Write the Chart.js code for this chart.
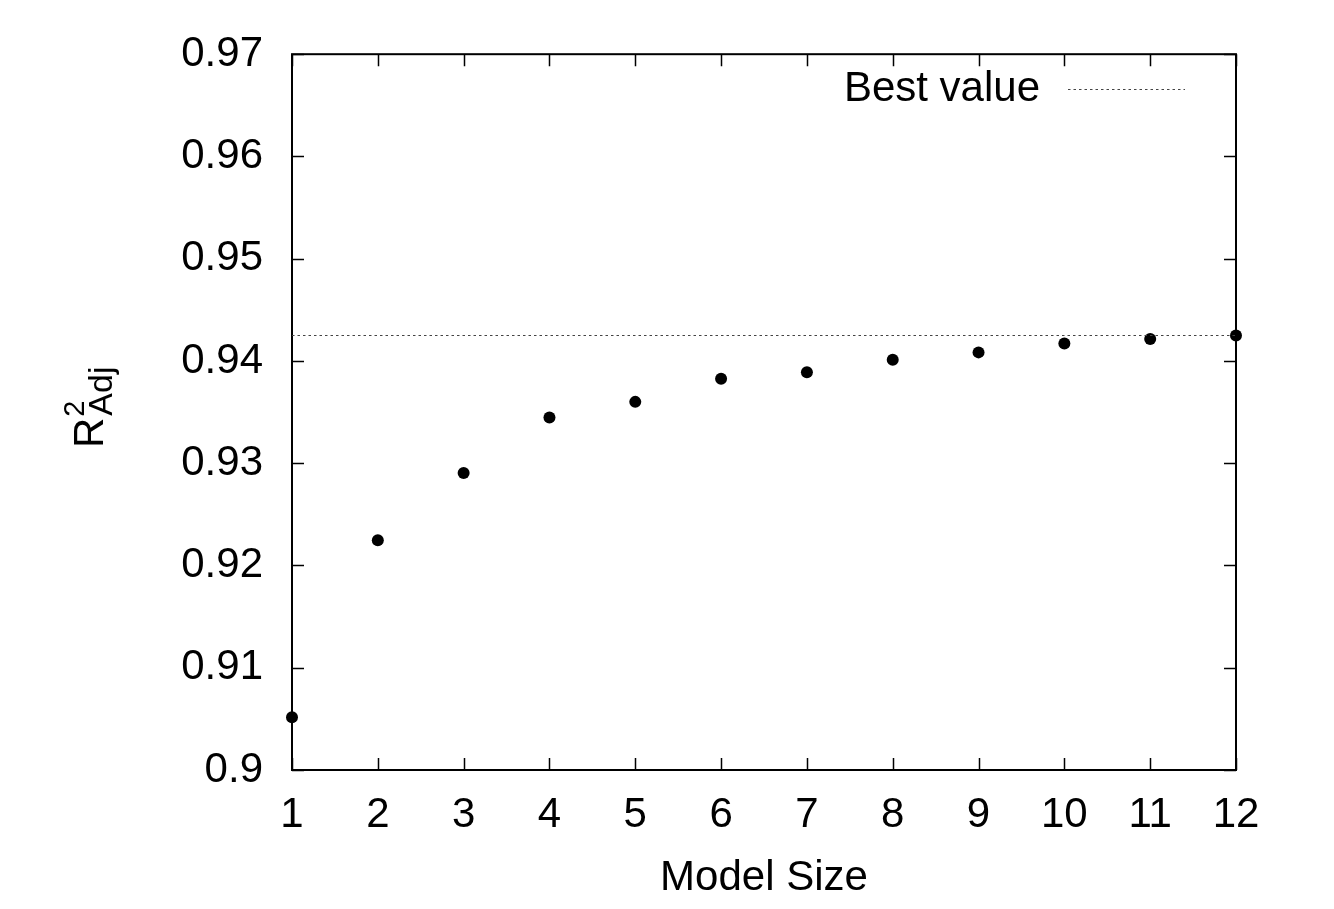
<!DOCTYPE html>
<html>
<head>
<meta charset="utf-8">
<script src="https://cdn.jsdelivr.net/npm/chart.js@4.4.1/dist/chart.umd.min.js"></script>
<style>
  html, body { margin: 0; padding: 0; background: #fff; }
  #wrap { width: 1334px; height: 909px; position: relative; }
</style>
</head>
<body>
<div id="wrap"><canvas id="c"></canvas></div>
<script>
// ---- data ----
const modelSizes = [1, 2, 3, 4, 5, 6, 7, 8, 9, 10, 11, 12];
const adjR2 = [0.90516, 0.92246, 0.92905, 0.93447, 0.93600, 0.93827, 0.93889, 0.94012, 0.94084, 0.94171, 0.94216, 0.94249];
const bestValue = 0.94249;
const bestLabel = 'Best value';
const xTitle = 'Model Size';
const yTicks = [0.9, 0.91, 0.92, 0.93, 0.94, 0.95, 0.96, 0.97];

const FONT = '"Liberation Sans", Arial, Helvetica, sans-serif';

const pointsData = modelSizes.map((x, i) => ({ x: x, y: adjR2[i] }));
const bestData = [{ x: modelSizes[0], y: bestValue }, { x: modelSizes[modelSizes.length - 1], y: bestValue }];

// frame + inward ticks on all four sides (gnuplot style)
const framePlugin = {
  id: 'frame',
  beforeDatasetsDraw(chart) {
    const { ctx, chartArea: a, scales } = chart;
    ctx.save();
    ctx.strokeStyle = '#000';
    ctx.lineWidth = 1.5;
    const tl = 12;
    ctx.beginPath();
    scales.x.ticks.forEach(t => {
      const px = Math.round(scales.x.getPixelForValue(t.value)) + 0.5;
      ctx.moveTo(px, a.bottom); ctx.lineTo(px, a.bottom - tl);
      ctx.moveTo(px, a.top); ctx.lineTo(px, a.top + tl);
    });
    scales.y.ticks.forEach(t => {
      const py = Math.round(scales.y.getPixelForValue(t.value)) + 0.5;
      ctx.moveTo(a.left, py); ctx.lineTo(a.left + tl, py);
      ctx.moveTo(a.right, py); ctx.lineTo(a.right - tl, py);
    });
    ctx.stroke();
    ctx.lineWidth = 2;
    ctx.strokeRect(a.left, a.top, a.right - a.left, a.bottom - a.top);
    ctx.restore();
  },
  afterDraw(chart) {
    const { ctx, chartArea: a } = chart;
    ctx.save();
    // legend (inside plot, top right)
    const ds = chart.data.datasets[1];
    ctx.font = '42px ' + FONT;
    ctx.fillStyle = '#000';
    ctx.textAlign = 'right';
    ctx.textBaseline = 'middle';
    const ly = a.top + 35;
    ctx.fillText(ds.label, a.right - 196, ly);
    ctx.strokeStyle = ds.borderColor;
    ctx.lineWidth = ds.borderWidth;
    ctx.setLineDash(ds.borderDash);
    ctx.beginPath();
    ctx.moveTo(a.right - 168, Math.round(ly) + 0.5);
    ctx.lineTo(a.right - 51, Math.round(ly) + 0.5);
    ctx.stroke();
    ctx.setLineDash([]);
    // y axis title: R^2_Adj rotated
    ctx.translate(103, 448);
    ctx.rotate(-Math.PI / 2);
    ctx.textAlign = 'left';
    ctx.textBaseline = 'alphabetic';
    ctx.font = '42px ' + FONT;
    ctx.fillText('R', 0, 0);
    const rw = ctx.measureText('R').width;
    ctx.font = '29px ' + FONT;
    ctx.fillText('2', rw + 1, -19);
    ctx.font = '34px ' + FONT;
    ctx.fillText('Adj', rw + 2, 9);
    ctx.restore();
  }
};

new Chart(document.getElementById('c'), {
  type: 'scatter',
  data: {
    datasets: [
      {
        label: 'R2 Adj',
        data: pointsData,
        backgroundColor: '#000',
        borderColor: '#000',
        pointRadius: 6,
        pointHoverRadius: 6,
        pointBorderWidth: 0,
        showLine: false,
        clip: false,
        order: 1
      },
      {
        label: bestLabel,
        data: bestData,
        showLine: true,
        borderColor: '#444',
        borderWidth: 1,
        borderDash: [2.5, 3],
        pointRadius: 0,
        pointHoverRadius: 0,
        fill: false,
        clip: false,
        order: 0
      }
    ]
  },
  options: {
    responsive: true,
    maintainAspectRatio: false,
    animation: false,
    events: [],
    layout: { padding: { top: 50, right: 98, left: 0, bottom: 0 } },
    plugins: {
      legend: { display: false },
      tooltip: { enabled: false },
      title: { display: false }
    },
    scales: {
      x: {
        type: 'linear',
        min: 1,
        max: 12,
        afterFit(s) { s.height = 139; },
        afterBuildTicks(s) { s.ticks = modelSizes.map(v => ({ value: v })); },
        grid: { display: false, drawTicks: false },
        border: { display: false },
        ticks: {
          color: '#000',
          font: { family: FONT, size: 42 },
          padding: 20,
          maxRotation: 0,
          autoSkip: false,
          callback: v => String(v)
        },
        title: {
          display: true,
          text: xTitle,
          color: '#000',
          font: { family: FONT, size: 42 },
          padding: { top: 0, bottom: 5 }
        }
      },
      y: {
        type: 'linear',
        min: 0.9,
        max: 0.97,
        afterFit(s) { s.width = 292; },
        afterBuildTicks(s) { s.ticks = yTicks.map(v => ({ value: v })); },
        grid: { display: false, drawTicks: false },
        border: { display: false },
        ticks: {
          color: '#000',
          font: { family: FONT, size: 42 },
          padding: 29,
          autoSkip: false,
          callback: v => String(Math.round(v * 100) / 100)
        }
      }
    }
  },
  plugins: [framePlugin]
});
</script>
</body>
</html>
